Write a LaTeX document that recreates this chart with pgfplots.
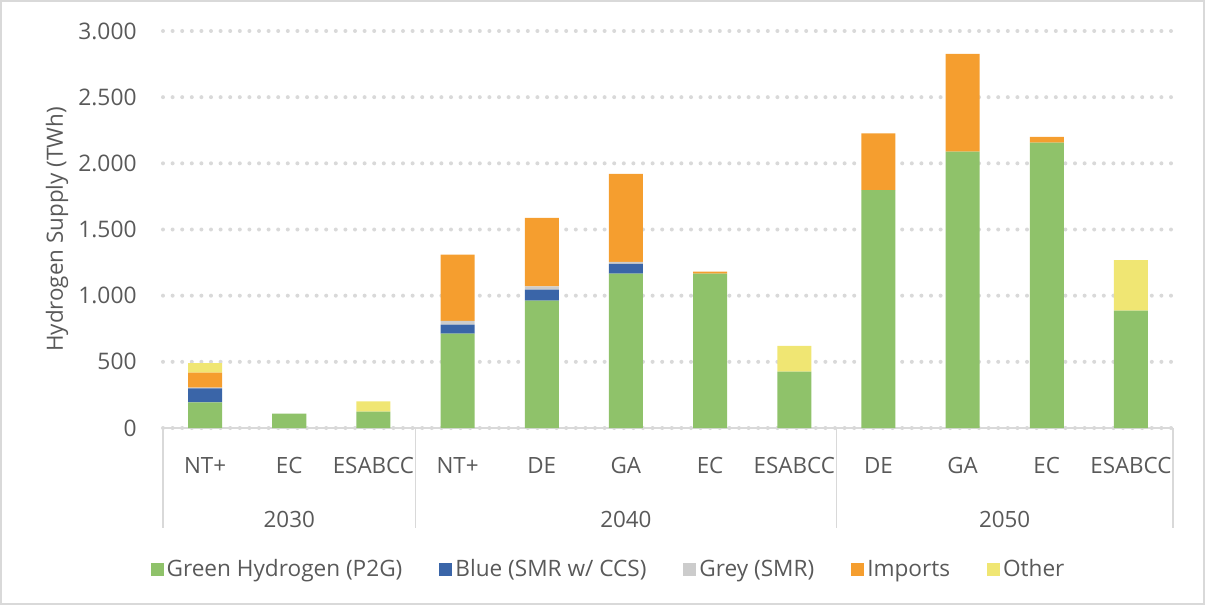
\documentclass[border=0pt]{standalone}
\usepackage{pgfplots}
\pgfplotsset{compat=1.18}
\usepackage{pgfplotstable}
\usepackage{fontspec}
\setmainfont{Open Sans}
\definecolor{cgreen}{RGB}{143,194,106}
\definecolor{cblue}{RGB}{58,101,168}
\definecolor{cgrey}{RGB}{204,204,204}
\definecolor{corange}{RGB}{245,158,47}
\definecolor{cyellow}{RGB}{240,230,115}
\definecolor{ctext}{RGB}{89,89,89}
\definecolor{cline}{RGB}{217,217,217}
\pgfplotstableread{
x g b gr imp oth
0 194 106 5 113 73
1 108 0 0 0 0
2 123 0 0 0 79
3 713 68 28 501 0
4 962 83 26 516 0
5 1166 74 15 665 0
6 1166 0 0 15 0
7 426 0 0 0 194
8 1797 0 0 430 0
9 2088 0 0 739 0
10 2157 0 0 43 0
11 887 0 0 0 381
}\datatable
\begin{document}
\begin{tikzpicture}
\begin{axis}[
  at={(0,0)}, anchor=south west,
  scale only axis, width=505pt, height=198.5pt,
  xmin=-0.5, xmax=11.5, ymin=0, ymax=3000,
  ybar stacked, bar width=17pt,
  clip=false,
  axis line style={draw=none},
  xtick={0,...,11},
  xticklabels={NT+,EC,ESABCC,NT+,DE,GA,EC,ESABCC,DE,GA,EC,ESABCC},
  major tick length=0pt,
  ytick={0,500,1000,1500,2000,2500,3000},
  ymajorgrids,
  grid style={cline, line width=2pt, line cap=round, dash pattern=on 0pt off 4.8pt},
  /pgf/number format/1000 sep={.},
  /pgf/number format/assume math mode=true,
  yticklabel style={font=\fontsize{11.4}{13}\selectfont, text=ctext, anchor=east, inner sep=0pt, xshift=-13pt},
  xticklabel style={font=\fontsize{11.2}{13}\selectfont, text=ctext, anchor=base, inner sep=0pt, yshift=-22.5pt},
  ylabel={Hydrogen Supply (TWh)},
  ylabel style={font=\fontsize{11.2}{13}\selectfont, text=ctext, at={(axis description cs:-0.105,0.5)}, anchor=center},
  legend columns=5,
  legend style={draw=none, fill=none, at={(0.4416,-0.3565)}, anchor=center,
    font=\fontsize{11.3}{13}\selectfont, text=ctext,
    nodes={inner sep=1.5pt},
    /tikz/every even column/.append style={column sep=17pt}},
  legend image code/.code={\fill[#1] (0pt,-3.25pt) rectangle (6.5pt,3.25pt);},
  every axis plot/.append style={draw=none},
]
\addplot[fill=cgreen] table[x=x,y=g]{\datatable};
\addplot[fill=cblue] table[x=x,y=b]{\datatable};
\addplot[fill=cgrey] table[x=x,y=gr]{\datatable};
\addplot[fill=corange] table[x=x,y=imp]{\datatable};
\addplot[fill=cyellow] table[x=x,y=oth]{\datatable};
\legend{Green Hydrogen (P2G),Blue (SMR w/ CCS),Grey (SMR),Imports,Other}
\draw[cline, line width=0.8pt] (axis cs:-0.5,0) -- (axis cs:11.5,0);
\draw[cline, line width=0.8pt] (axis cs:-0.5,0) -- ([yshift=-50pt]axis cs:-0.5,0);
\draw[cline, line width=0.8pt] (axis cs:2.5,0) -- ([yshift=-50pt]axis cs:2.5,0);
\draw[cline, line width=0.8pt] (axis cs:7.5,0) -- ([yshift=-50pt]axis cs:7.5,0);
\draw[cline, line width=0.8pt] (axis cs:11.5,0) -- ([yshift=-50pt]axis cs:11.5,0);
\node[font=\fontsize{11.2}{13}\selectfont, text=ctext, anchor=base, inner sep=0pt] at ([yshift=-49.5pt]axis cs:1,0) {2030};
\node[font=\fontsize{11.2}{13}\selectfont, text=ctext, anchor=base, inner sep=0pt] at ([yshift=-49.5pt]axis cs:5,0) {2040};
\node[font=\fontsize{11.2}{13}\selectfont, text=ctext, anchor=base, inner sep=0pt] at ([yshift=-49.5pt]axis cs:9.5,0) {2050};
\end{axis}
\draw[cline, line width=0.8pt] (-81.1pt,-88.1pt) rectangle (520.6pt,213.6pt);
\end{tikzpicture}
\end{document}
